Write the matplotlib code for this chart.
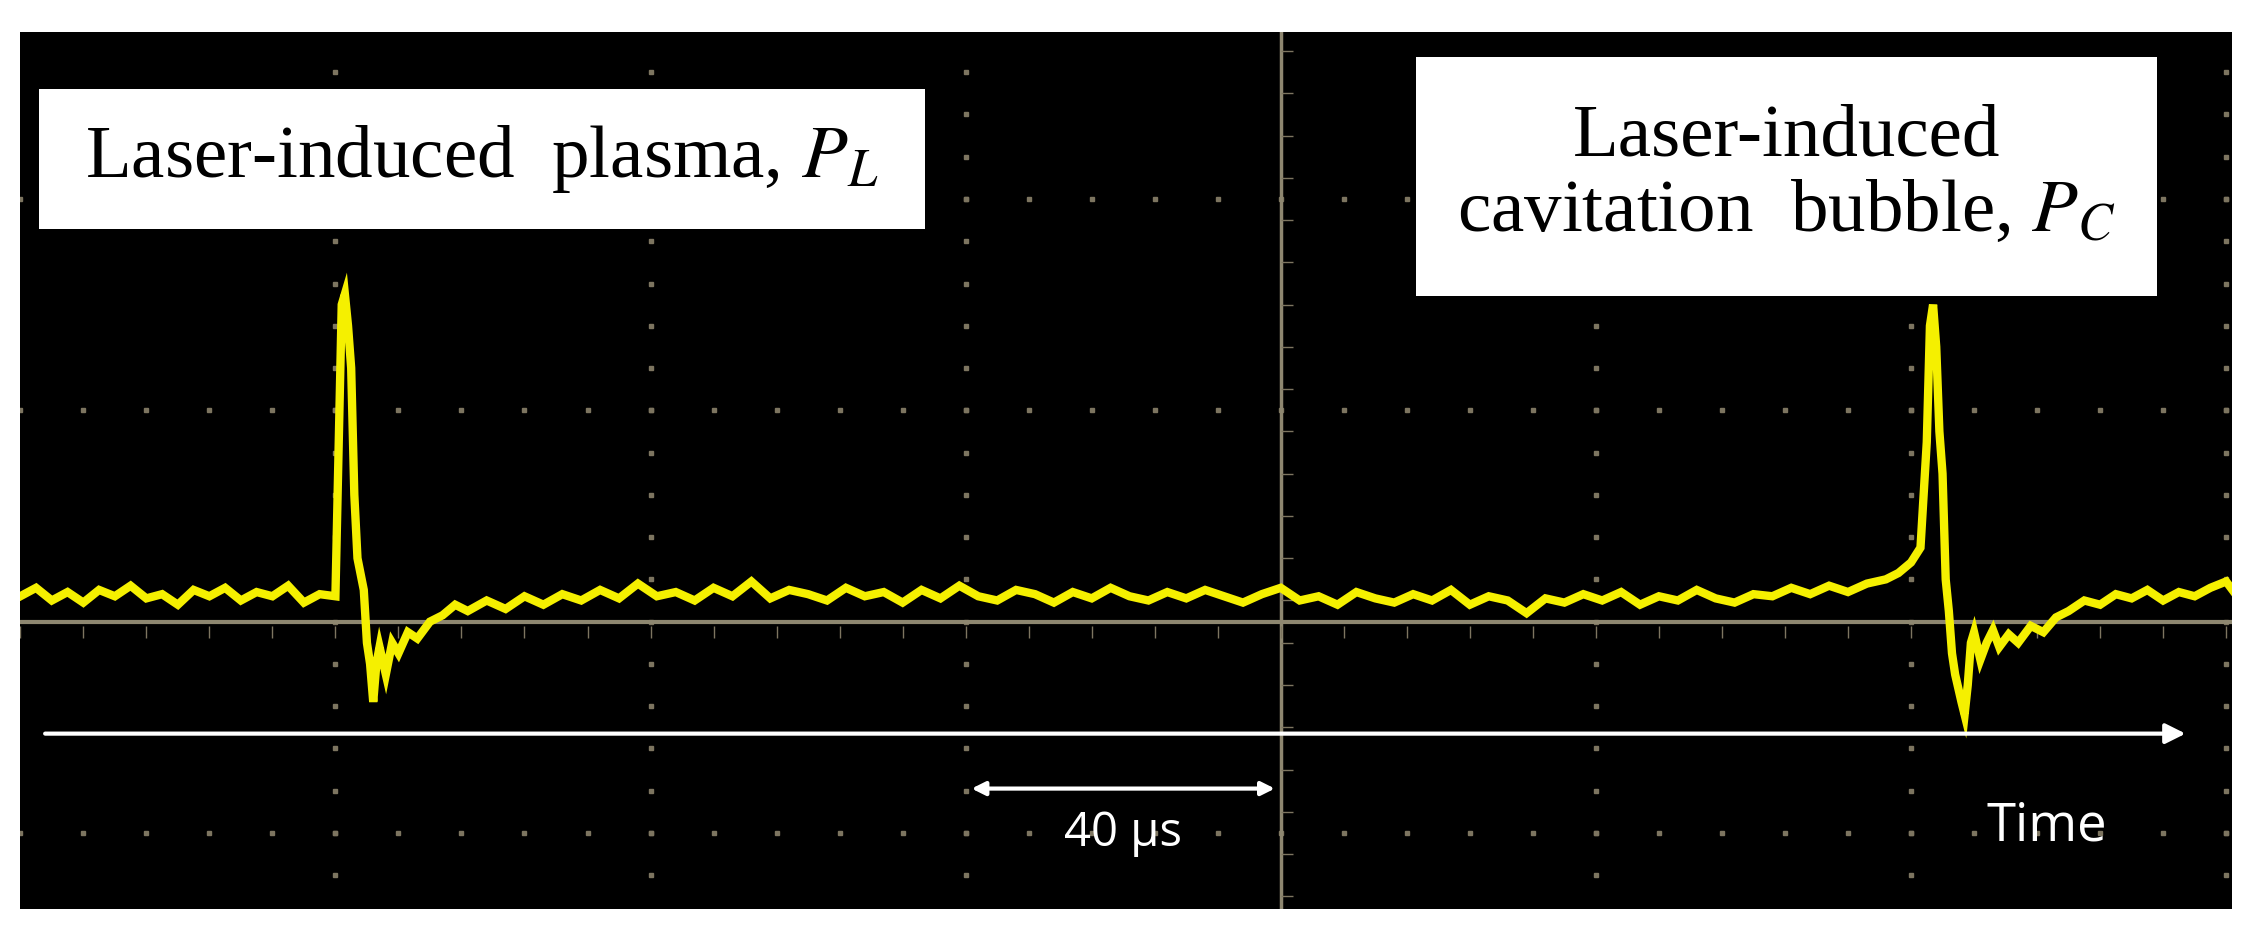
import matplotlib
matplotlib.use("Agg")
import matplotlib.pyplot as plt
import numpy as np
from matplotlib.patches import Rectangle

plt.rcParams['mathtext.fontset'] = 'stix'

# time in divisions (1 div = 40 us), amplitude in divisions
t_base1 = [-4.00,-3.95,-3.90,-3.85,-3.80,-3.75,-3.70,-3.65,-3.60,-3.55,-3.50,-3.45,-3.40,-3.35,-3.30,-3.25,-3.20,-3.15,-3.10,-3.05]
v_base1 = [0.12,0.16,0.10,0.14,0.09,0.15,0.12,0.17,0.11,0.13,0.08,0.15,0.12,0.16,0.10,0.14,0.12,0.17,0.09,0.13]
t_peak1 = [-3.00,-2.99,-2.98,-2.97,-2.96,-2.95,-2.94,-2.93,-2.91,-2.90,-2.89,-2.88,-2.87,-2.86,-2.84,-2.82,-2.80,-2.77,-2.74,-2.70,-2.66,-2.62]
v_peak1 = [0.12,0.80,1.50,1.55,1.40,1.20,0.60,0.30,0.15,-0.10,-0.20,-0.38,-0.20,-0.12,-0.25,-0.10,-0.15,-0.05,-0.08,0.00,0.03,0.08]
t_mid = [-2.58,-2.52,-2.46,-2.40,-2.34,-2.28,-2.22,-2.16,-2.10,-2.04,-1.98,-1.92,-1.86,-1.80,-1.74,-1.68,-1.62,-1.56,-1.50,-1.44,
         -1.38,-1.32,-1.26,-1.20,-1.14,-1.08,-1.02,-0.96,-0.90,-0.84,-0.78,-0.72,-0.66,-0.60,-0.54,-0.48,-0.42,-0.36,-0.30,-0.24,
         -0.18,-0.12,-0.06,0.00,0.06,0.12,0.18,0.24,0.30,0.36,0.42,0.48,0.54,0.60,0.66,0.72,0.78,0.84,0.90,0.96,
         1.02,1.08,1.14,1.20,1.26,1.32,1.38,1.44,1.50,1.56,1.62,1.68,1.74,1.80,1.86,1.92]
v_mid = [0.05,0.10,0.06,0.12,0.08,0.13,0.10,0.15,0.11,0.18,0.12,0.14,0.10,0.16,0.12,0.19,0.11,0.15,0.13,0.10,
         0.16,0.12,0.14,0.09,0.15,0.11,0.17,0.12,0.10,0.15,0.13,0.09,0.14,0.11,0.16,0.12,0.10,0.14,0.11,0.15,
         0.12,0.09,0.13,0.16,0.10,0.12,0.08,0.14,0.11,0.09,0.13,0.10,0.15,0.08,0.12,0.10,0.04,0.11,0.09,0.13,
         0.10,0.14,0.08,0.12,0.10,0.15,0.11,0.09,0.13,0.12,0.16,0.13,0.17,0.14,0.18,0.20]
t_peak2 = [1.96,2.00,2.03,2.05,2.06,2.07,2.08,2.09,2.10,2.11,2.12,2.13,2.14,2.16,2.17,2.18,2.19,2.20,2.22,2.24,2.26,2.28,2.31,2.34,2.38,2.42,2.46,2.50]
v_peak2 = [0.23,0.28,0.35,0.85,1.40,1.50,1.30,0.90,0.70,0.20,0.05,-0.15,-0.25,-0.38,-0.44,-0.30,-0.10,-0.05,-0.18,-0.10,-0.04,-0.12,-0.06,-0.10,-0.02,-0.05,0.02,0.05]
t_base2 = [2.55,2.60,2.65,2.70,2.75,2.80,2.85,2.90,2.95,3.00,3.03]
v_base2 = [0.10,0.08,0.13,0.11,0.15,0.10,0.14,0.12,0.16,0.19,0.13]

t = t_base1 + t_peak1 + t_mid + t_peak2 + t_base2
v = v_base1 + v_peak1 + v_mid + v_peak2 + v_base2

fig = plt.figure(figsize=(22.55, 9.42), dpi=100)
fig.patch.set_facecolor("white")
ax = fig.add_axes([0.009, 0.035, 0.981, 0.931])
ax.set_facecolor("black")
ax.set_xlim(-4.0, 3.02)
ax.set_ylim(-1.36, 2.79)
for s in ax.spines.values():
    s.set_visible(False)
ax.set_xticks([]); ax.set_yticks([])

gc = "#7d7560"
for gx in [-3, -2, -1, 1, 2, 3]:
    ys = np.arange(-1.2, 2.8, 0.2)
    ax.plot([gx]*len(ys), ys, ls="none", marker="s", ms=3, color=gc)
for gy in [-1, 1, 2]:
    xs = np.arange(-4.0, 3.05, 0.2)
    ax.plot(xs, [gy]*len(xs), ls="none", marker="s", ms=3, color=gc)
ax.axhline(0, color="#8e8770", lw=3)
ax.axvline(0, color="#8e8770", lw=2.5)
xs = np.arange(-4.0, 3.05, 0.2)
ax.plot(xs, [-0.05]*len(xs), ls="none", marker="|", ms=8, color=gc)
ys = np.arange(-1.3, 2.8, 0.2)
ax.plot([0.02]*len(ys), ys, ls="none", marker="_", ms=8, color=gc)

ax.plot(t, v, color="#f5f000", lw=6, solid_joinstyle="miter")

ax.annotate("", xy=(2.88, -0.53), xytext=(-3.93, -0.53),
            arrowprops=dict(arrowstyle="-|>,head_length=1.2,head_width=0.6", color="white", lw=3))
ax.annotate("", xy=(-0.01, -0.79), xytext=(-0.99, -0.79),
            arrowprops=dict(arrowstyle="<|-|>,head_length=0.8,head_width=0.4", color="white", lw=3))
ax.text(-0.5, -1.0, "40 µs", color="white", fontsize=34, family="Open Sans", ha="center", va="center")
ax.text(2.43, -0.97, "Time", color="white", fontsize=38, family="Open Sans", ha="center", va="center")

ax.add_patch(Rectangle((-3.94, 1.86), 2.81, 0.66, facecolor="white", edgecolor="none", zorder=5))
ax.add_patch(Rectangle((0.43, 1.54), 2.35, 1.13, facecolor="white", edgecolor="none", zorder=5))
ax.text(-2.535, 2.19, r"Laser-induced  plasma, $P_L$", fontsize=54, family="Liberation Serif",
        ha="center", va="center", zorder=6)
ax.text(1.605, 2.11, "Laser-induced\ncavitation  bubble, $P_C$", fontsize=54, family="Liberation Serif",
        ha="center", va="center", zorder=6, linespacing=1.15)
fig.savefig("out.png", dpi=100, facecolor="white")
